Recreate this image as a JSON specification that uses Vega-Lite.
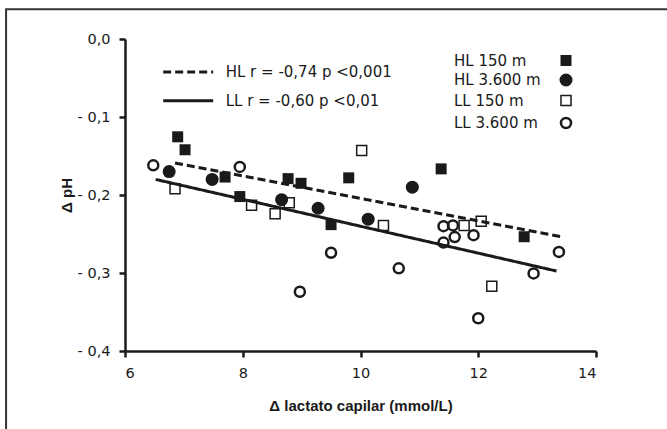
{
  "$schema": "https://vega.github.io/schema/vega-lite/v6.json",
  "width": 471,
  "height": 312,
  "autosize": {"type": "none"},
  "padding": {"left": 125, "top": 39, "right": 71, "bottom": 78},
  "background": "white",
  "config": {
    "view": {"stroke": null},
    "font": "DejaVu Sans",
    "axis": {
      "grid": false,
      "domainColor": "#1a1a1a",
      "domainWidth": 2.5,
      "tickColor": "#1a1a1a",
      "tickWidth": 2.5,
      "tickSize": 6,
      "labelColor": "#1a1a1a",
      "labelFontSize": 14.5,
      "labelFont": "DejaVu Sans",
      "titleColor": "#1a1a1a",
      "titleFont": "Liberation Sans",
      "titleFontWeight": "bold",
      "titleFontSize": 15
    },
    "legend": {
      "labelFont": "DejaVu Sans",
      "labelFontSize": 15,
      "labelColor": "#1a1a1a",
      "labelLimit": 0
    }
  },
  "layer": [
    {
      "data": {"values": [{"frame": "border"}]},
      "mark": {"type": "rect", "fill": null, "stroke": "#333333", "strokeWidth": 2, "clip": false},
      "encoding": {
        "x": {"datum": 3.98, "type": "quantitative"},
        "x2": {"datum": 16.5},
        "y": {"datum": 0.0382, "type": "quantitative"},
        "y2": {"datum": -0.6}
      }
    },
    {
      "data": {
        "values": [
          {"x": 6.85, "y": -0.159, "fit": "HL r = -0,74 p <0,001"},
          {"x": 13.44, "y": -0.254, "fit": "HL r = -0,74 p <0,001"},
          {"x": 6.52, "y": -0.18, "fit": "LL r = -0,60 p <0,01"},
          {"x": 13.33, "y": -0.2975, "fit": "LL r = -0,60 p <0,01"}
        ]
      },
      "mark": {"type": "line", "stroke": "#1a1a1a", "strokeWidth": 3, "clip": false},
      "encoding": {
        "x": {
          "field": "x",
          "type": "quantitative",
          "scale": {"domain": [6, 14], "nice": false, "zero": false},
          "axis": {
            "values": [6, 8, 10, 12, 14],
            "format": "d",
            "title": "Δ lactato capilar (mmol/L)",
            "labelPadding": 9,
            "titlePadding": 19
          }
        },
        "y": {
          "field": "y",
          "type": "quantitative",
          "scale": {"domain": [-0.4, 0], "nice": false, "zero": false},
          "axis": {
            "values": [0, -0.1, -0.2, -0.3, -0.4],
            "labelExpr": "datum.value == 0 ? '0,0' : '- ' + replace(format(abs(datum.value), '.1f'), '.', ',')",
            "title": "Δ pH",
            "labelPadding": 9,
            "titlePadding": 3
          }
        },
        "detail": {"field": "fit", "type": "nominal"},
        "strokeDash": {
          "field": "fit",
          "type": "nominal",
          "scale": {
            "domain": ["HL r = -0,74 p <0,001", "LL r = -0,60 p <0,01"],
            "range": [[8, 4], [1, 0]]
          },
          "legend": {
            "orient": "none",
            "legendX": 36.7,
            "legendY": 25,
            "title": null,
            "symbolType": "stroke",
            "symbolSize": 2500,
            "symbolStrokeWidth": 3,
            "symbolStrokeColor": "#1a1a1a",
            "clipHeight": 16,
            "rowPadding": 12.7,
            "labelOffset": 11
          }
        }
      }
    },
    {
      "data": {
        "values": [
          {"x": 6.895, "y": -0.1254, "group": "HL 150 m"},
          {"x": 7.02, "y": -0.142, "group": "HL 150 m"},
          {"x": 7.7, "y": -0.177, "group": "HL 150 m"},
          {"x": 7.95, "y": -0.202, "group": "HL 150 m"},
          {"x": 8.77, "y": -0.179, "group": "HL 150 m"},
          {"x": 8.99, "y": -0.185, "group": "HL 150 m"},
          {"x": 9.5, "y": -0.238, "group": "HL 150 m"},
          {"x": 9.8, "y": -0.178, "group": "HL 150 m"},
          {"x": 11.37, "y": -0.1665, "group": "HL 150 m"},
          {"x": 12.78, "y": -0.2535, "group": "HL 150 m"},
          {"x": 6.75, "y": -0.17, "group": "HL 3.600 m"},
          {"x": 7.48, "y": -0.18, "group": "HL 3.600 m"},
          {"x": 8.66, "y": -0.206, "group": "HL 3.600 m"},
          {"x": 9.28, "y": -0.217, "group": "HL 3.600 m"},
          {"x": 10.13, "y": -0.231, "group": "HL 3.600 m"},
          {"x": 10.88, "y": -0.19, "group": "HL 3.600 m"},
          {"x": 6.85, "y": -0.192, "group": "LL 150 m"},
          {"x": 8.15, "y": -0.213, "group": "LL 150 m"},
          {"x": 8.55, "y": -0.224, "group": "LL 150 m"},
          {"x": 8.79, "y": -0.21, "group": "LL 150 m"},
          {"x": 10.02, "y": -0.143, "group": "LL 150 m"},
          {"x": 10.39, "y": -0.239, "group": "LL 150 m"},
          {"x": 11.76, "y": -0.239, "group": "LL 150 m"},
          {"x": 12.05, "y": -0.2335, "group": "LL 150 m"},
          {"x": 12.23, "y": -0.317, "group": "LL 150 m"},
          {"x": 6.48, "y": -0.162, "group": "LL 3.600 m"},
          {"x": 7.95, "y": -0.164, "group": "LL 3.600 m"},
          {"x": 8.97, "y": -0.324, "group": "LL 3.600 m"},
          {"x": 9.5, "y": -0.274, "group": "LL 3.600 m"},
          {"x": 10.65, "y": -0.294, "group": "LL 3.600 m"},
          {"x": 11.41, "y": -0.24, "group": "LL 3.600 m"},
          {"x": 11.57, "y": -0.239, "group": "LL 3.600 m"},
          {"x": 11.6, "y": -0.254, "group": "LL 3.600 m"},
          {"x": 11.92, "y": -0.2515, "group": "LL 3.600 m"},
          {"x": 11.41, "y": -0.261, "group": "LL 3.600 m"},
          {"x": 12.0, "y": -0.358, "group": "LL 3.600 m"},
          {"x": 12.94, "y": -0.3005, "group": "LL 3.600 m"},
          {"x": 13.37, "y": -0.273, "group": "LL 3.600 m"}
        ]
      },
      "mark": {"type": "point", "stroke": "#1a1a1a", "opacity": 1, "clip": false},
      "encoding": {
        "x": {"field": "x", "type": "quantitative"},
        "y": {"field": "y", "type": "quantitative"},
        "shape": {
          "field": "group",
          "type": "nominal",
          "scale": {
            "domain": ["HL 150 m", "HL 3.600 m", "LL 150 m", "LL 3.600 m"],
            "range": ["square", "circle", "square", "circle"]
          },
          "legend": {
            "orient": "none",
            "legendX": 433.5,
            "legendY": 14,
            "title": null,
            "rowPadding": 3.5,
            "labelOffset": -119.5,
            "labelAlign": "left"
          }
        },
        "fill": {
          "field": "group",
          "type": "nominal",
          "scale": {
            "domain": ["HL 150 m", "HL 3.600 m", "LL 150 m", "LL 3.600 m"],
            "range": ["#1a1a1a", "#1a1a1a", "transparent", "transparent"]
          }
        },
        "size": {
          "field": "group",
          "type": "nominal",
          "scale": {
            "type": "ordinal",
            "domain": ["HL 150 m", "HL 3.600 m", "LL 150 m", "LL 3.600 m"],
            "range": [121, 169, 100, 100]
          }
        },
        "strokeWidth": {
          "field": "group",
          "type": "nominal",
          "scale": {
            "type": "ordinal",
            "domain": ["HL 150 m", "HL 3.600 m", "LL 150 m", "LL 3.600 m"],
            "range": [0, 0, 1.5, 2.5]
          }
        }
      }
    }
  ]
}
